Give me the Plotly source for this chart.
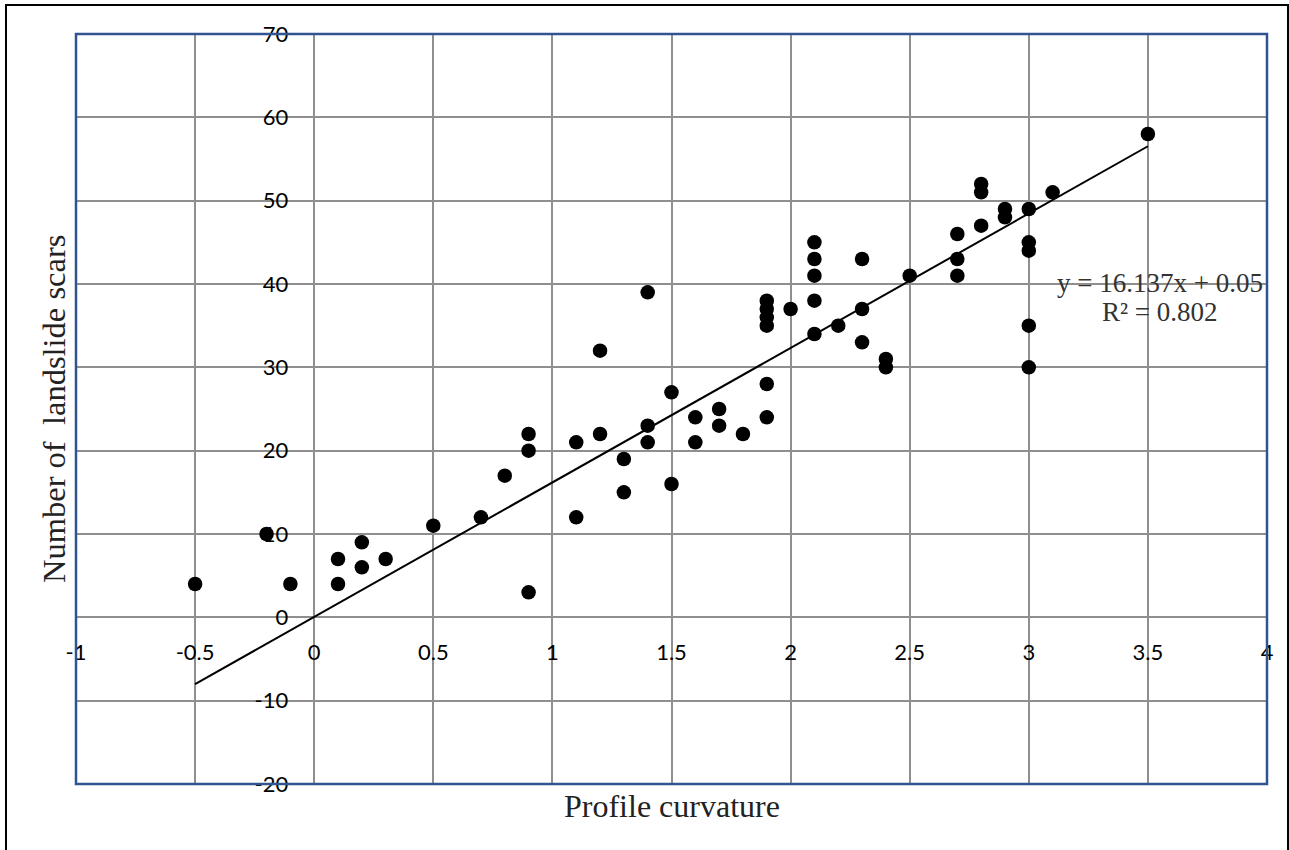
import plotly.graph_objects as go

# ---- data ----
profile_curvature = [
    -0.5, -0.2, -0.1, 0.1, 0.1, 0.2, 0.2, 0.3, 0.5, 0.7, 0.8,
    0.9, 0.9, 0.9, 1.1, 1.1, 1.2, 1.2, 1.3, 1.3, 1.4, 1.4, 1.4,
    1.5, 1.5, 1.6, 1.6, 1.7, 1.7, 1.8,
    1.9, 1.9, 1.9, 1.9, 1.9, 1.9, 2.0,
    2.1, 2.1, 2.1, 2.1, 2.1, 2.2, 2.3, 2.3, 2.3, 2.4, 2.4, 2.5,
    2.7, 2.7, 2.7, 2.8, 2.8, 2.8, 2.9, 2.9,
    3.0, 3.0, 3.0, 3.0, 3.0, 3.1, 3.5,
]
landslide_scars = [
    4, 10, 4, 7, 4, 9, 6, 7, 11, 12, 17,
    22, 20, 3, 21, 12, 32, 22, 19, 15, 39, 23, 21,
    27, 16, 24, 21, 25, 23, 22,
    38, 37, 36, 35, 28, 24, 37,
    45, 43, 41, 38, 34, 35, 43, 37, 33, 31, 30, 41,
    46, 43, 41, 52, 51, 47, 49, 48,
    49, 45, 44, 35, 30, 51, 58,
]
trend_slope = 16.137
trend_intercept = 0.05
r_squared = 0.802

x_tick_values = [-1, -0.5, 0, 0.5, 1, 1.5, 2, 2.5, 3, 3.5, 4]
x_tick_labels = ["-1", "-0.5", "0", "0.5", "1", "1.5", "2", "2.5", "3", "3.5", "4"]
y_tick_values = [-20, -10, 0, 10, 20, 30, 40, 50, 60, 70]
y_tick_labels = ["-20", "-10", "0", "10", "20", "30", "40", "50", "60", "70"]

# ---- layout constants ----
W, H = 1289, 850
ML, MR, MT, MB = 76, 22, 34, 66
PW, PH = W - ML - MR, H - MT - MB
X_RANGE = [-1, 4]
Y_RANGE = [-20, 70]
GRID = "#8f8f8f"
BORDER = "#2F5490"
SERIF = "Liberation Serif, Times New Roman, serif"


def px_to_paper_x(px):
    return (px - ML) / PW


def px_to_paper_y(py):
    return (H - MB - py) / PH


trend_x = [min(profile_curvature), max(profile_curvature)]
trend_y = [trend_slope * v + trend_intercept for v in trend_x]

fig = go.Figure()
fig.add_trace(go.Scatter(
    x=trend_x, y=trend_y, mode="lines",
    line=dict(color="black", width=2), hoverinfo="skip", showlegend=False,
))
fig.add_trace(go.Scatter(
    x=profile_curvature, y=landslide_scars, mode="markers",
    marker=dict(color="black", size=14.5, line=dict(width=0)), showlegend=False,
))

x_axis_pos = (0 - Y_RANGE[0]) / (Y_RANGE[1] - Y_RANGE[0])
y_axis_pos = (0 - X_RANGE[0]) / (X_RANGE[1] - X_RANGE[0])

tick_font = dict(family="Lato, Carlito, sans-serif", size=22, color="#000000")

fig.update_layout(
    template="none",
    width=W, height=H,
    margin=dict(l=ML, r=MR, t=MT, b=MB, pad=0),
    paper_bgcolor="white", plot_bgcolor="white",
    showlegend=False,
    xaxis=dict(
        range=X_RANGE, tickvals=x_tick_values, ticktext=x_tick_labels,
        anchor="free", position=x_axis_pos,
        showgrid=True, gridcolor=GRID, gridwidth=1.5,
        zeroline=False, showline=False, ticks="",
        ticklabelstandoff=20, tickfont=tick_font, automargin=False,
    ),
    yaxis=dict(
        range=Y_RANGE, tickvals=y_tick_values, ticktext=y_tick_labels,
        anchor="free", position=y_axis_pos,
        showgrid=True, gridcolor=GRID, gridwidth=1.5,
        zeroline=False, showline=False, ticks="",
        ticklabelstandoff=26, tickfont=tick_font, automargin=False,
    ),
    shapes=[
        dict(type="rect", xref="paper", yref="paper", x0=0, x1=1, y0=0, y1=1,
             line=dict(color=BORDER, width=2.5), layer="above"),
        dict(type="rect", xref="paper", yref="paper",
             x0=px_to_paper_x(6), x1=px_to_paper_x(1288),
             y0=px_to_paper_y(856), y1=px_to_paper_y(5),
             line=dict(color="black", width=2), layer="above"),
    ],
    annotations=[
        dict(text="Profile curvature", xref="paper", yref="paper",
             x=0.5, y=px_to_paper_y(806), xanchor="center", yanchor="middle",
             showarrow=False, font=dict(family=SERIF, size=32, color="#222222")),
        dict(text="Number of  landslide scars", xref="paper", yref="paper",
             x=px_to_paper_x(54), y=0.5, xanchor="center", yanchor="middle",
             textangle=-90, showarrow=False,
             font=dict(family=SERIF, size=32.5, color="#222222")),
        dict(text=f"y = {trend_slope}x + {trend_intercept}",
             xref="paper", yref="paper",
             x=px_to_paper_x(1160), y=px_to_paper_y(283),
             xanchor="center", yanchor="middle", showarrow=False,
             font=dict(family=SERIF, size=27, color="#333333")),
        dict(text=f"R² = {r_squared}",
             xref="paper", yref="paper",
             x=px_to_paper_x(1160), y=px_to_paper_y(312),
             xanchor="center", yanchor="middle", showarrow=False,
             font=dict(family=SERIF, size=27, color="#333333")),
    ],
)

fig.write_html(
    "out.html",
    config={"displayModeBar": False},
    post_script="document.body.style.margin='0';document.body.style.overflow='hidden';",
)
